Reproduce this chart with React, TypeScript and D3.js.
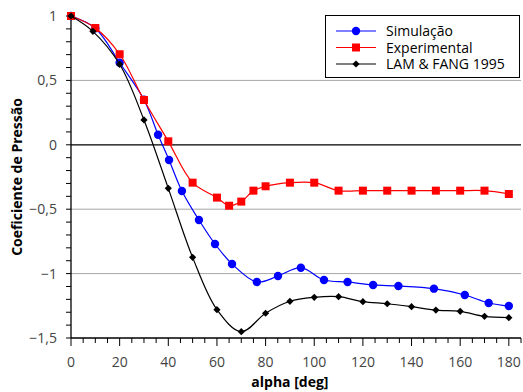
import React from "react";
import * as d3 from "d3";

// Pressure coefficient vs. angle around the cylinder
const simAlpha = [0, 10, 20, 30, 35.8, 40.3, 45.6, 52.6, 59.2, 66.2, 76.4, 85.1, 94.5, 104, 113.7, 124.2, 134.6, 149.2, 161.9, 171.7, 180];
const simCp = [1.0, 0.905, 0.637, 0.35, 0.078, -0.118, -0.359, -0.584, -0.77, -0.925, -1.065, -1.019, -0.954, -1.05, -1.065, -1.088, -1.096, -1.117, -1.166, -1.228, -1.252];

const expAlpha = [0, 10, 20, 30, 40, 50, 60, 65, 70, 75, 80, 90, 100, 110, 120, 130, 140, 150, 160, 170, 180];
const expCp = [1.0, 0.907, 0.703, 0.348, 0.027, -0.294, -0.41, -0.473, -0.441, -0.356, -0.322, -0.294, -0.294, -0.356, -0.356, -0.356, -0.356, -0.356, -0.356, -0.356, -0.382];

const lamAlpha = [0, 9, 20, 30, 40, 50, 60, 70, 80, 90, 100, 110, 120, 130, 140, 150, 160, 170, 180];
const lamCp = [1.0, 0.881, 0.625, 0.193, -0.338, -0.874, -1.28, -1.451, -1.308, -1.215, -1.184, -1.179, -1.218, -1.234, -1.257, -1.283, -1.293, -1.332, -1.342];

const xTickLabels = [0, 20, 40, 60, 80, 100, 120, 140, 160, 180];
const yTickLabels = [1, 0.5, 0, -0.5, -1, -1.5];
const gridValues = [0.5, -0.5, -1];
const seriesNames = ["Simulação", "Experimental", "LAM & FANG 1995"];

const W = 523;
const H = 392;
const margin = { left: 71, right: 2, top: 16, bottom: 54 };
const FONT = "'Open Sans', 'DejaVu Sans', sans-serif";

const x = d3.scaleLinear().domain([0, 185]).range([margin.left, margin.left + 450]);
const y = d3.scaleLinear().domain([-1.5, 1]).range([H - margin.bottom, margin.top]);

const fmt = (v: number) => {
  const s = String(Math.abs(v)).replace(".", ",");
  return v < 0 ? "\u2212" + s : s;
};

type Pt = [number, number];
const zip = (a: number[], b: number[]): Pt[] => a.map((v, i) => [v, b[i]]);

const line = d3
  .line<Pt>()
  .x((d) => x(d[0]))
  .y((d) => y(d[1]))
  .curve(d3.curveCatmullRom.alpha(0.5));

function Marker({ kind, cx, cy, color }: { kind: string; cx: number; cy: number; color: string }) {
  if (kind === "circle") return <circle cx={cx} cy={cy} r={4.2} fill={color} />;
  if (kind === "square") return <rect x={cx - 4} y={cy - 4} width={8} height={8} fill={color} />;
  const r = 3.6;
  return <path d={`M${cx},${cy - r}L${cx + r},${cy}L${cx},${cy + r}L${cx - r},${cy}Z`} fill={color} />;
}

const series = [
  { name: seriesNames[0], pts: zip(simAlpha, simCp), color: "#0000ff", kind: "circle" },
  { name: seriesNames[1], pts: zip(expAlpha, expCp), color: "#ff0000", kind: "square" },
  { name: seriesNames[2], pts: zip(lamAlpha, lamCp), color: "#000000", kind: "diamond" },
];

export default function App() {
  const xMinor = d3.range(0, 186, 5);
  const yMinor = d3.range(-15, 11, 1).map((v) => v / 10);
  const x0 = x(0);
  const x1 = x(185);
  const yb = y(-1.5);
  return (
    <svg width={W} height={H} style={{ position: "absolute", left: 0, top: 0 }} fontFamily={FONT}>
      <rect width={W} height={H} fill="#fff" />
      {gridValues.map((g) => (
        <line key={g} x1={x0} x2={x1} y1={y(g)} y2={y(g)} stroke="#a6a6a6" strokeWidth={1} />
      ))}
      <line x1={x0} x2={x1} y1={y(0)} y2={y(0)} stroke="#000" strokeWidth={1.3} />

      {/* axes */}
      <line x1={x0} x2={x0} y1={y(1)} y2={yb} stroke="#000" strokeWidth={1.3} />
      <line x1={x0} x2={x1} y1={yb} y2={yb} stroke="#000" strokeWidth={1.3} />
      {yMinor.map((v) => (
        <line key={v} x1={x0 - 5} x2={x0} y1={y(v)} y2={y(v)} stroke="#000" strokeWidth={1} />
      ))}
      {xMinor.map((v) => (
        <line key={v} x1={x(v)} x2={x(v)} y1={yb} y2={yb + (v % 20 === 0 ? 8 : 5)} stroke="#000" strokeWidth={1} />
      ))}
      {yTickLabels.map((v) => (
        <text key={v} x={x0 - 14} y={y(v) + 5} textAnchor="end" fontSize={14} fill="#444">
          {fmt(v)}
        </text>
      ))}
      {xTickLabels.map((v) => (
        <text key={v} x={x(v)} y={367} textAnchor="middle" fontSize={14} fill="#444">
          {v}
        </text>
      ))}
      <text x={(x(0) + x(180)) / 2} y={387} textAnchor="middle" fontSize={14} fontWeight="bold" fill="#000">
        alpha [deg]
      </text>
      <text
        transform={`translate(22,${(y(1) + yb) / 2}) rotate(-90)`}
        textAnchor="middle"
        fontSize={14}
        fontWeight="bold"
        fill="#000"
      >
        Coeficiente de Pressão
      </text>

      {series.map((s) => (
        <g key={s.name}>
          <path d={line(s.pts) || ""} fill="none" stroke={s.color} strokeWidth={1.2} />
          {s.pts.map((p, i) => (
            <Marker key={i} kind={s.kind} cx={x(p[0])} cy={y(p[1])} color={s.color} />
          ))}
        </g>
      ))}

      {/* legend */}
      <rect x={325.5} y={15.5} width={194} height={62} fill="#fff" stroke="#000" strokeWidth={1} />
      {series.map((s, i) => {
        const ly = 31 + i * 16.5;
        return (
          <g key={s.name}>
            <line x1={336} x2={376} y1={ly} y2={ly} stroke={s.color} strokeWidth={1.2} />
            <Marker kind={s.kind} cx={356} cy={ly} color={s.color} />
            <text x={386} y={ly + 5} fontSize={14} fill="#000">
              {s.name}
            </text>
          </g>
        );
      })}
    </svg>
  );
}
